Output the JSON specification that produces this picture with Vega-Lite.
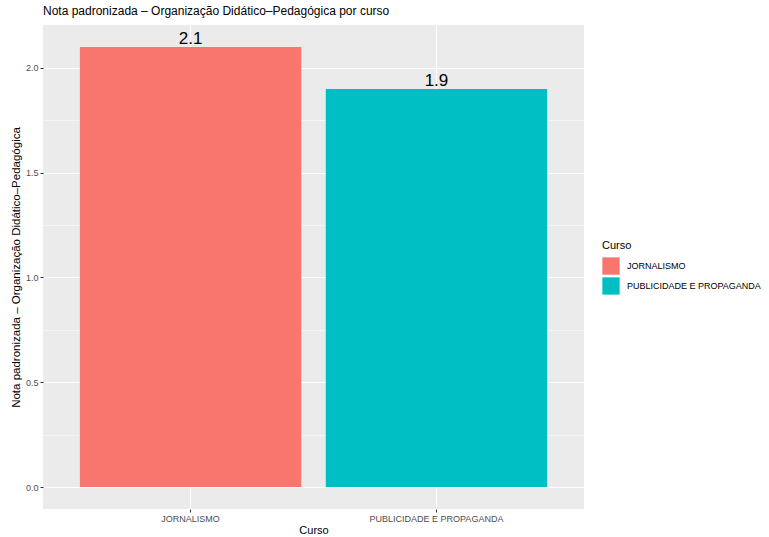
{
  "$schema": "https://vega.github.io/schema/vega-lite/v6.json",
  "width": 541,
  "height": 484,
  "autosize": "none",
  "padding": {"left": 43, "top": 25, "right": 185, "bottom": 28},
  "background": "white",
  "title": {"text": "Nota padronizada – Organização Didático–Pedagógica por curso", "anchor": "start", "frame": "group", "font": "Liberation Sans", "fontSize": 12, "fontWeight": "normal", "color": "black", "offset": 7},
  "config": {"view": {"fill": "#EBEBEB", "stroke": null}, "font": "Liberation Sans"},
  "data": {"values": [
    {"Curso": "JORNALISMO", "Nota": 2.1},
    {"Curso": "PUBLICIDADE E PROPAGANDA", "Nota": 1.9}
  ]},
  "encoding": {
    "x": {"field": "Curso", "type": "nominal", "sort": null,
      "scale": {"paddingInner": 0.1, "paddingOuter": 0.15},
      "axis": {"title": "Curso", "labelAngle": 0, "domain": false, "grid": true, "gridColor": "white", "gridWidth": 1.1, "bandPosition": 0.5,
        "tickColor": "#333333", "tickSize": 3, "tickWidth": 1, "labelColor": "#4D4D4D", "labelFontSize": 9, "labelPadding": 2,
        "titleFontSize": 11, "titleColor": "black", "titleFontWeight": "normal", "titlePadding": 1}},
    "y": {"field": "Nota", "type": "quantitative",
      "scale": {"domain": [-0.105, 2.205], "nice": false, "zero": false},
      "axis": {"title": "Nota padronizada – Organização Didático–Pedagógica",
        "values": [0, 0.25, 0.5, 0.75, 1, 1.25, 1.5, 1.75, 2],
        "labelExpr": "datum.value % 0.5 === 0 ? format(datum.value, '.1f') : ''",
        "domain": false, "grid": true, "gridColor": "white",
        "gridWidth": {"condition": {"test": "datum.value % 0.5 !== 0", "value": 0.5}, "value": 1.1},
        "tickOpacity": {"condition": {"test": "datum.value % 0.5 !== 0", "value": 0}, "value": 1},
        "tickColor": "#333333", "tickSize": 3, "tickWidth": 1, "labelColor": "#4D4D4D", "labelFontSize": 9, "labelPadding": 2,
        "titleFontSize": 11.5, "titleColor": "black", "titleFontWeight": "normal", "titlePadding": 4}}
  },
  "layer": [
    {"mark": {"type": "bar"},
      "encoding": {"color": {"field": "Curso", "type": "nominal",
        "scale": {"range": ["#F8766D", "#00BFC4"]},
        "legend": {"title": "Curso", "orient": "none", "legendX": 559, "legendY": 215,
          "symbolType": "square", "symbolSize": 300, "symbolStrokeWidth": 0, "symbolOpacity": 1, "labelOffset": 7,
          "labelFontSize": 9, "labelColor": "black", "titleFontSize": 11, "titleFontWeight": "normal", "titleColor": "black",
          "rowPadding": 2, "titlePadding": 6}}}},
    {"mark": {"type": "text", "baseline": "bottom", "fontSize": 17, "color": "black", "dy": 1},
      "encoding": {"text": {"field": "Nota", "type": "quantitative", "format": ".1f"}}}
  ]
}
